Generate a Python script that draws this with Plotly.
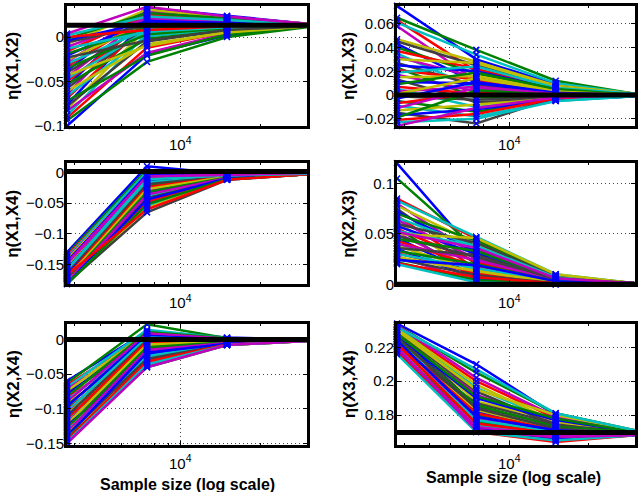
import plotly.graph_objects as go

# Sample sizes (log scale x axis)
sample_sizes = [3750, 7500, 15000, 30000]

# ---------------- eta(X1,X2) ----------------
p1_n1 = [-0.100, -0.094, -0.091, -0.088, -0.083, -0.081, -0.078, -0.076, -0.072, -0.069,
         -0.066, -0.064, -0.061, -0.058, -0.055, -0.053, -0.050, -0.047, -0.045, -0.043,
         -0.040, -0.038, -0.035, -0.033, -0.030, -0.028, -0.026, -0.023, -0.021, -0.019,
         -0.016, -0.013, -0.011, -0.008, -0.006, -0.004, -0.002, 0.000, 0.002, 0.004]
p1_n2 = [-0.020, -0.028, -0.012, 0.004, -0.018, 0.010, -0.005, 0.020, -0.021, 0.015,
         0.001, 0.026, -0.008, 0.012, 0.030, -0.002, 0.018, 0.007, 0.024, -0.010,
         0.014, 0.033, 0.003, 0.022, 0.009, 0.028, 0.016, -0.004, 0.019, 0.011,
         0.025, 0.006, 0.021, 0.031, 0.013, 0.017, 0.027, 0.008, 0.023, 0.034]
p1_n3 = [0.002, 0.000, 0.006, 0.010, 0.004, 0.014, 0.008, 0.018, 0.003, 0.016,
         0.009, 0.021, 0.005, 0.012, 0.022, 0.007, 0.017, 0.011, 0.020, 0.006,
         0.013, 0.024, 0.010, 0.019, 0.012, 0.023, 0.015, 0.008, 0.017, 0.013,
         0.020, 0.011, 0.018, 0.022, 0.014, 0.016, 0.021, 0.012, 0.019, 0.023]
p1_n4 = [0.012, 0.011, 0.012, 0.013, 0.012, 0.014, 0.013, 0.014, 0.012, 0.014,
         0.013, 0.015, 0.012, 0.013, 0.015, 0.012, 0.014, 0.013, 0.014, 0.012,
         0.013, 0.015, 0.013, 0.014, 0.013, 0.015, 0.014, 0.012, 0.014, 0.013,
         0.014, 0.013, 0.014, 0.015, 0.013, 0.014, 0.014, 0.013, 0.014, 0.015]
p1_true = 0.0132

# ---------------- eta(X1,X3) ----------------
p2_n1 = [0.075, 0.065, 0.063, 0.061, 0.058, 0.047, 0.045, 0.043, 0.040, 0.037,
         0.035, 0.032, 0.030, 0.027, 0.025, 0.023, 0.021, 0.019, 0.017, 0.015,
         0.013, 0.011, 0.009, 0.007, 0.005, 0.003, 0.001, -0.001, -0.003, -0.005,
         -0.007, -0.009, -0.011, -0.013, -0.015, -0.017, -0.019, -0.021, -0.023, -0.026]
p2_n2 = [0.030, 0.038, 0.020, 0.034, 0.012, 0.028, 0.025, 0.010, 0.018, 0.022,
         0.005, 0.015, 0.027, 0.008, 0.020, -0.002, 0.013, 0.024, 0.003, 0.016,
         -0.006, 0.010, 0.019, 0.001, -0.010, 0.007, 0.014, -0.004, 0.011, -0.014,
         0.002, -0.018, 0.006, -0.008, -0.024, -0.012, 0.004, -0.016, -0.020, -0.011]
p2_n3 = [0.009, 0.012, 0.006, 0.010, 0.004, 0.008, 0.007, 0.002, 0.005, 0.006,
         0.000, 0.004, 0.007, 0.001, 0.005, -0.002, 0.003, 0.006, -0.001, 0.004,
         -0.003, 0.002, 0.005, 0.000, -0.004, 0.001, 0.003, -0.002, 0.002, -0.004,
         -0.001, -0.005, 0.001, -0.003, -0.002, -0.004, 0.000, -0.003, -0.005, -0.002]
p2_n4 = [0.001, 0.001, 0.000, 0.001, 0.000, 0.001, 0.000, 0.000, 0.000, 0.001,
         0.000, 0.000, 0.001, 0.000, 0.000, -0.001, 0.000, 0.001, 0.000, 0.000,
         -0.001, 0.000, 0.000, 0.000, -0.001, 0.000, 0.000, 0.000, 0.000, -0.001,
         0.000, -0.001, 0.000, 0.000, 0.000, -0.001, 0.000, 0.000, -0.001, 0.000]
p2_true = 0.0

# ---------------- eta(X1,X4) ----------------
p3_n1 = [-0.130, -0.133, -0.135, -0.138, -0.140, -0.142, -0.144, -0.146, -0.148, -0.150,
         -0.151, -0.153, -0.154, -0.156, -0.157, -0.159, -0.160, -0.161, -0.163, -0.164,
         -0.165, -0.166, -0.168, -0.169, -0.170, -0.171, -0.172, -0.173, -0.174, -0.175,
         -0.176, -0.177, -0.178, -0.179, -0.180, -0.181, -0.182, -0.167, -0.158, -0.147]
p3_n2 = [0.010, 0.004, -0.002, 0.001, -0.008, -0.005, -0.012, -0.003, -0.015, -0.010,
         -0.020, -0.007, -0.018, -0.025, -0.013, -0.022, -0.030, -0.016, -0.028, -0.035,
         -0.019, -0.033, -0.040, -0.024, -0.038, -0.045, -0.027, -0.042, -0.050, -0.032,
         -0.048, -0.055, -0.036, -0.058, -0.065, -0.044, -0.052, -0.060, -0.011, -0.006]
p3_n3 = [-0.002, -0.003, -0.003, -0.002, -0.004, -0.004, -0.005, -0.003, -0.006, -0.005,
         -0.006, -0.004, -0.006, -0.007, -0.005, -0.007, -0.008, -0.006, -0.008, -0.009,
         -0.006, -0.008, -0.010, -0.007, -0.009, -0.010, -0.007, -0.010, -0.011, -0.008,
         -0.011, -0.012, -0.009, -0.011, -0.012, -0.010, -0.011, -0.012, -0.005, -0.004]
p3_n4 = [-0.001, -0.001, -0.002, -0.001, -0.002, -0.002, -0.002, -0.001, -0.002, -0.002,
         -0.002, -0.001, -0.002, -0.002, -0.002, -0.002, -0.003, -0.002, -0.002, -0.003,
         -0.002, -0.002, -0.003, -0.002, -0.002, -0.003, -0.002, -0.003, -0.003, -0.002,
         -0.003, -0.003, -0.002, -0.003, -0.003, -0.002, -0.003, -0.003, -0.002, -0.001]
p3_true = 0.0015

# ---------------- eta(X2,X3) ----------------
p4_n1 = [0.120, 0.105, 0.085, 0.083, 0.080, 0.078, 0.075, 0.072, 0.070, 0.068,
         0.066, 0.064, 0.062, 0.060, 0.058, 0.056, 0.055, 0.053, 0.051, 0.050,
         0.048, 0.046, 0.045, 0.043, 0.041, 0.040, 0.038, 0.036, 0.035, 0.033,
         0.031, 0.030, 0.028, 0.027, 0.025, 0.024, 0.022, 0.021, 0.020, 0.052]
p4_n2 = [0.030, 0.035, 0.045, 0.047, 0.028, 0.040, 0.020, 0.032, 0.043, 0.015,
         0.037, 0.025, 0.010, 0.041, 0.030, 0.005, 0.022, 0.038, 0.012, 0.046,
         0.027, 0.008, 0.033, 0.018, 0.003, 0.024, 0.014, 0.029, 0.006, 0.020,
         0.011, 0.016, 0.002, 0.013, 0.009, 0.019, 0.004, 0.007, 0.002, 0.036]
p4_n3 = [0.004, 0.005, 0.008, 0.010, 0.004, 0.007, 0.003, 0.005, 0.009, 0.002,
         0.006, 0.004, 0.001, 0.008, 0.005, 0.001, 0.003, 0.007, 0.002, 0.010,
         0.004, 0.001, 0.006, 0.003, 0.000, 0.004, 0.002, 0.005, 0.001, 0.003,
         0.002, 0.003, 0.000, 0.002, 0.001, 0.003, 0.001, 0.001, 0.000, 0.006]
p4_n4 = [0.001, 0.001, 0.001, 0.001, 0.001, 0.001, 0.000, 0.001, 0.001, 0.000,
         0.001, 0.001, 0.000, 0.001, 0.001, 0.000, 0.000, 0.001, 0.000, 0.001,
         0.001, 0.000, 0.001, 0.000, 0.000, 0.001, 0.000, 0.001, 0.000, 0.000,
         0.000, 0.000, 0.000, 0.000, 0.000, 0.001, 0.000, 0.000, 0.000, 0.001]
p4_true = 0.0

# ---------------- eta(X2,X4) ----------------
p5_n1 = [-0.060, -0.063, -0.066, -0.069, -0.072, -0.075, -0.078, -0.080, -0.083, -0.085,
         -0.088, -0.090, -0.093, -0.095, -0.097, -0.100, -0.102, -0.104, -0.106, -0.108,
         -0.110, -0.112, -0.114, -0.116, -0.118, -0.120, -0.122, -0.124, -0.126, -0.128,
         -0.130, -0.132, -0.134, -0.136, -0.138, -0.140, -0.142, -0.145, -0.148, -0.150]
p5_n2 = [0.012, 0.022, 0.008, 0.014, 0.004, 0.010, -0.002, 0.006, 0.011, -0.006,
         0.002, 0.009, -0.010, 0.000, 0.005, -0.014, -0.004, 0.003, -0.018, -0.008,
         -0.001, -0.022, -0.012, -0.003, -0.026, -0.016, -0.007, -0.030, -0.020, -0.011,
         -0.034, -0.024, -0.015, -0.038, -0.028, -0.019, -0.040, -0.032, -0.036, -0.040]
p5_n3 = [0.003, 0.002, 0.001, 0.002, 0.000, 0.001, -0.001, 0.001, 0.002, -0.002,
         0.000, 0.001, -0.003, -0.001, 0.000, -0.004, -0.002, 0.000, -0.005, -0.003,
         -0.001, -0.006, -0.004, -0.002, -0.006, -0.005, -0.003, -0.007, -0.006, -0.004,
         -0.008, -0.006, -0.005, -0.008, -0.007, -0.006, -0.008, -0.007, -0.008, -0.008]
p5_n4 = [0.000, 0.000, 0.000, 0.000, 0.000, 0.000, -0.001, 0.000, 0.000, -0.001,
         0.000, 0.000, -0.001, -0.001, 0.000, -0.001, -0.001, 0.000, -0.001, -0.001,
         -0.001, -0.001, -0.001, -0.001, -0.001, -0.001, -0.001, -0.002, -0.001, -0.001,
         -0.002, -0.001, -0.001, -0.002, -0.002, -0.001, -0.002, -0.002, -0.002, -0.002]
p5_true = 0.0

# ---------------- eta(X3,X4) ----------------
p6_n1 = [0.234, 0.233, 0.232, 0.232, 0.231, 0.230, 0.230, 0.229, 0.228, 0.228,
         0.227, 0.226, 0.226, 0.225, 0.224, 0.224, 0.223, 0.222, 0.222, 0.221,
         0.220, 0.219, 0.218, 0.217, 0.216, 0.233, 0.231, 0.229, 0.227, 0.225,
         0.223, 0.221, 0.219, 0.230, 0.226, 0.224, 0.228, 0.222, 0.232, 0.220]
p6_n2 = [0.210, 0.205, 0.200, 0.196, 0.192, 0.188, 0.185, 0.182, 0.180, 0.178,
         0.176, 0.175, 0.174, 0.173, 0.172, 0.171, 0.170, 0.174, 0.178, 0.183,
         0.187, 0.172, 0.176, 0.171, 0.170, 0.202, 0.198, 0.194, 0.190, 0.186,
         0.181, 0.177, 0.173, 0.195, 0.184, 0.179, 0.191, 0.175, 0.207, 0.171]
p6_n3 = [0.180, 0.181, 0.178, 0.176, 0.175, 0.177, 0.174, 0.172, 0.173, 0.171,
         0.170, 0.169, 0.168, 0.167, 0.166, 0.165, 0.164, 0.168, 0.170, 0.172,
         0.175, 0.166, 0.169, 0.167, 0.165, 0.179, 0.176, 0.174, 0.177, 0.173,
         0.171, 0.170, 0.168, 0.180, 0.172, 0.171, 0.178, 0.169, 0.181, 0.167]
p6_n4 = [0.170, 0.171, 0.170, 0.170, 0.170, 0.170, 0.169, 0.169, 0.170, 0.169,
         0.169, 0.169, 0.169, 0.169, 0.168, 0.168, 0.168, 0.169, 0.169, 0.170,
         0.170, 0.168, 0.169, 0.169, 0.168, 0.171, 0.170, 0.170, 0.170, 0.170,
         0.169, 0.169, 0.169, 0.171, 0.169, 0.169, 0.170, 0.169, 0.171, 0.168]
p6_true = 0.1697

y_labels = ["η(X1,X2)", "η(X1,X3)", "η(X1,X4)", "η(X2,X3)", "η(X2,X4)", "η(X3,X4)"]
y_ranges = [[-0.1, 0.035], [-0.026, 0.075], [-0.182, 0.0149], [0.0, 0.12], [-0.152, 0.023], [0.1625, 0.234]]
y_ticks = [[-0.1, -0.05, 0], [-0.02, 0, 0.02, 0.04, 0.06], [-0.15, -0.1, -0.05, 0],
           [0, 0.05, 0.1], [-0.15, -0.1, -0.05, 0], [0.18, 0.2, 0.22]]
x_label = "Sample size (log scale)"

panels = [
    (p1_n1, p1_n2, p1_n3, p1_n4, p1_true),
    (p2_n1, p2_n2, p2_n3, p2_n4, p2_true),
    (p3_n1, p3_n2, p3_n3, p3_n4, p3_true),
    (p4_n1, p4_n2, p4_n3, p4_n4, p4_true),
    (p5_n1, p5_n2, p5_n3, p5_n4, p5_true),
    (p6_n1, p6_n2, p6_n3, p6_n4, p6_true),
]

# MATLAB classic color order
colors = ["rgb(0,0,255)", "rgb(0,128,0)", "rgb(255,0,0)", "rgb(0,191,191)",
          "rgb(191,0,191)", "rgb(191,191,0)", "rgb(64,64,64)"]

W, H = 639, 492
col_px = [(67, 307), (397, 635)]
row_px = [(6, 128), (166, 289), (329, 452)]
ylab_x = [13, 349]
FONT = "Liberation Sans, Arial, Helvetica, sans-serif"

fig = go.Figure()
layout = dict(width=W, height=H, margin=dict(l=0, r=0, t=0, b=0),
              paper_bgcolor="white", plot_bgcolor="white", showlegend=False,
              font=dict(family=FONT, size=15, color="black"))
annotations = []

for i, (n1, n2, n3, n4, truth) in enumerate(panels):
    r, c = divmod(i, 2)
    ax = "" if i == 0 else str(i + 1)
    xa, ya = "x" + ax, "y" + ax
    # individual runs
    for k in range(len(n1)):
        fig.add_trace(go.Scatter(
            x=sample_sizes, y=[n1[k], n2[k], n3[k], n4[k]], mode="lines",
            line=dict(color=colors[k % len(colors)], width=2.5),
            xaxis=xa, yaxis=ya, hoverinfo="skip"))
    # markers
    mx, my = [], []
    for vals, s in zip((n1, n2, n3, n4), sample_sizes):
        mx += [s] * len(vals)
        my += list(vals)
    fig.add_trace(go.Scatter(
        x=mx, y=my, mode="markers", cliponaxis=False,
        marker=dict(symbol="x-thin-open", size=6, color="rgb(0,0,255)",
                    line=dict(width=1.5, color="rgb(0,0,255)")),
        xaxis=xa, yaxis=ya, hoverinfo="skip"))
    # true value
    fig.add_trace(go.Scatter(
        x=[sample_sizes[0], sample_sizes[-1]], y=[truth, truth], mode="lines",
        line=dict(color="black", width=5), xaxis=xa, yaxis=ya, hoverinfo="skip"))

    x0, x1 = col_px[c]
    y0, y1 = row_px[r]
    common = dict(showline=True, linecolor="black", linewidth=3, mirror="ticks",
                  ticks="inside", ticklen=4, tickcolor="black", zeroline=False,
                  showgrid=True, gridcolor="rgb(70,70,70)", griddash="1px,3px", gridwidth=1,
                  tickfont=dict(family=FONT, size=15, color="black"))
    layout["xaxis" + ax] = dict(
        common, type="log", domain=[x0 / W, x1 / W], anchor=ya,
        range=[3.5740, 4.4771], ticklabelstandoff=3,
        tickmode="array", tickvals=[10000], ticktext=["10<sup>4</sup>"],
        minor=dict(tickmode="array",
                   tickvals=[4000, 5000, 6000, 7000, 8000, 9000, 20000, 30000],
                   ticks="inside", ticklen=2, tickcolor="black", showgrid=False))
    layout["yaxis" + ax] = dict(
        common, domain=[1 - y1 / H, 1 - y0 / H], anchor=xa, ticklabelstandoff=-3,
        range=y_ranges[i], tickmode="array", tickvals=y_ticks[i])
    annotations.append(dict(
        text="<b>%s</b>" % y_labels[i], xref="paper", yref="paper",
        x=ylab_x[c] / W, y=1 - (y0 + y1) / 2 / H, textangle=-90,
        showarrow=False, xanchor="center", yanchor="middle",
        font=dict(family=FONT, size=17, color="black")))

annotations.append(dict(text="<b>%s</b>" % x_label, xref="paper", yref="paper",
                        x=187 / W, y=1 - 492 / H, showarrow=False,
                        xanchor="center", yanchor="middle",
                        font=dict(family=FONT, size=16, color="black")))
annotations.append(dict(text="<b>%s</b>" % x_label, xref="paper", yref="paper",
                        x=513 / W, y=1 - 485 / H, showarrow=False,
                        xanchor="center", yanchor="middle",
                        font=dict(family=FONT, size=16, color="black")))
layout["annotations"] = annotations
fig.update_layout(**layout)
fig.write_html("out.html")
